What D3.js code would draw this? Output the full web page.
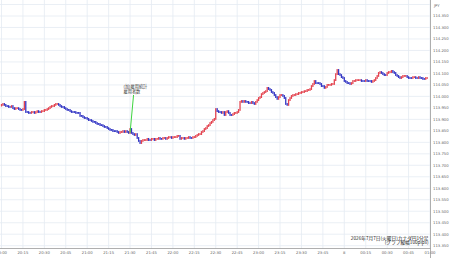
<!DOCTYPE html>
<html>
<head>
<meta charset="utf-8">
<script src="https://cdn.jsdelivr.net/npm/d3@7"></script>
<style>
  html, body { margin: 0; padding: 0; background: #fff; }
  svg { display: block; }
</style>
</head>
<body>
<div id="vis-container"></div>
<script>
// ------------------------------ DATA ------------------------------ //
// 1-minute closes from 20:00 (open of each candle = previous close)
const firstOpen = 113.960;
const closes = [
  113.963, 113.967, 113.963, 113.958, 113.958, 113.954, 113.954, 113.958, 113.949, 113.945,
  113.949, 113.949, 113.945, 113.941, 113.941, 113.945, 113.976, 113.932, 113.932, 113.928,
  113.928, 113.932, 113.932, 113.928, 113.932, 113.936, 113.932, 113.932, 113.936, 113.936,
  113.941, 113.941, 113.945, 113.949, 113.954, 113.958, 113.958, 113.963, 113.967, 113.967,
  113.963, 113.958, 113.954, 113.954, 113.949, 113.945, 113.941, 113.941, 113.936, 113.932,
  113.932, 113.932, 113.928, 113.928, 113.928, 113.915, 113.915, 113.910, 113.906, 113.906,
  113.902, 113.897, 113.897, 113.893, 113.889, 113.889, 113.884, 113.880, 113.880, 113.875,
  113.875, 113.871, 113.867, 113.867, 113.862, 113.858, 113.854, 113.854, 113.849, 113.849,
  113.849, 113.845, 113.841, 113.845, 113.845, 113.849, 113.845, 113.849, 113.845, 113.841,
  113.858, 113.841, 113.836, 113.832, 113.836, 113.819, 113.806, 113.797, 113.806, 113.810,
  113.810, 113.810, 113.815, 113.810, 113.810, 113.815, 113.815, 113.810, 113.815, 113.815,
  113.819, 113.815, 113.815, 113.819, 113.819, 113.815, 113.819, 113.823, 113.823, 113.819,
  113.823, 113.823, 113.823, 113.828, 113.828, 113.815, 113.819, 113.819, 113.815, 113.819,
  113.819, 113.823, 113.819, 113.819, 113.823, 113.823, 113.828, 113.832, 113.836, 113.836,
  113.845, 113.849, 113.858, 113.862, 113.871, 113.875, 113.884, 113.889, 113.897, 113.902,
  113.945, 113.936, 113.932, 113.932, 113.928, 113.932, 113.919, 113.932, 113.936, 113.928,
  113.919, 113.919, 113.923, 113.928, 113.928, 113.932, 113.941, 113.976, 113.980, 113.976,
  113.980, 113.976, 113.976, 113.971, 113.971, 113.976, 113.971, 113.967, 113.976, 113.984,
  113.993, 113.997, 114.010, 114.015, 114.019, 114.023, 114.037, 114.032, 114.028, 114.019,
  114.015, 114.006, 113.997, 113.989, 113.997, 114.006, 114.006, 114.002, 113.993, 113.967,
  113.963, 113.984, 113.993, 114.002, 114.006, 114.006, 114.010, 114.010, 114.015, 114.015,
  114.019, 114.019, 114.023, 114.023, 114.028, 114.028, 114.032, 114.045, 114.054, 114.067,
  114.058, 114.058, 114.058, 114.054, 114.045, 114.045, 114.037, 114.041, 114.050, 114.050,
  114.050, 114.054, 114.054, 114.071, 114.097, 114.115, 114.097, 114.093, 114.084, 114.080,
  114.067, 114.063, 114.058, 114.058, 114.054, 114.058, 114.067, 114.067, 114.071, 114.071,
  114.071, 114.071, 114.067, 114.067, 114.067, 114.071, 114.067, 114.067, 114.067, 114.063,
  114.067, 114.071, 114.080, 114.089, 114.102, 114.106, 114.102, 114.097, 114.093, 114.093,
  114.102, 114.106, 114.106, 114.111, 114.106, 114.102, 114.093, 114.089, 114.084, 114.080,
  114.084, 114.089, 114.089, 114.089, 114.084, 114.080, 114.080, 114.080, 114.084, 114.084,
  114.080, 114.080, 114.084, 114.080, 114.080, 114.076, 114.076, 114.080, 114.080
];

const priceTicks = [113.35, 113.40, 113.45, 113.50, 113.55, 113.60, 113.65, 113.70, 113.75, 113.80,
  113.85, 113.90, 113.95, 114.00, 114.05, 114.10, 114.15, 114.20, 114.25, 114.30, 114.35];
const startTime = Date.UTC(2026, 6, 7, 20, 0);
const endTime = Date.UTC(2026, 6, 8, 1, 0);
const eventTime = Date.UTC(2026, 6, 7, 21, 30);
const eventLabel = ["(加)雇用統計", "雇用者数"];
const captionLines = ["2026年7月7日(火曜日)カナダ円1分足", "(グラフ縦幅100pips)"];
const unitLabel = "JPY";

// ------------------------------ SET UP ------------------------------ //
const width = 450;
const height = 258;
const axisX = 430.5;
const axisY = 248.5;

const svg = d3.select("#vis-container")
  .append("svg")
  .attr("width", width)
  .attr("height", height)
  .attr("viewBox", [0, 0, width, height]);

const candles = closes.map((c, i) => ({
  time: new Date(startTime + i * 60000),
  open: i === 0 ? firstOpen : closes[i - 1],
  close: c
}));

const x = d3.scaleUtc()
  .domain([new Date(startTime), new Date(endTime)])
  .range([1.5, 430]);

const y = d3.scaleLinear()
  .domain([113.35, 114.35])
  .range([245.7, 16]);

const fontTick = "'DejaVu Sans', sans-serif";
const fontJp = "'Noto Sans CJK JP', sans-serif";

// Grid
const xTicks = x.ticks(d3.utcMinute.every(15));
svg.append("g")
  .selectAll("line")
  .data(xTicks)
  .join("line")
  .attr("x1", d => x(d)).attr("x2", d => x(d))
  .attr("y1", 0).attr("y2", axisY)
  .attr("stroke", "#e4ebf3")
  .attr("stroke-width", 0.8);

svg.append("g")
  .selectAll("line")
  .data(priceTicks.concat([114.40]))
  .join("line")
  .attr("x1", 0).attr("x2", axisX)
  .attr("y1", d => y(d)).attr("y2", d => y(d))
  .attr("stroke", "#e4ebf3")
  .attr("stroke-width", 0.8);

// Axes lines
svg.append("line")
  .attr("x1", axisX).attr("x2", axisX)
  .attr("y1", 0).attr("y2", height)
  .attr("stroke", "#9a9a9a").attr("stroke-width", 0.8);

svg.append("line")
  .attr("x1", 0).attr("x2", axisX)
  .attr("y1", axisY).attr("y2", axisY)
  .attr("stroke", "#9a9a9a").attr("stroke-width", 0.8);

// Y tick labels
svg.append("g")
  .selectAll("text")
  .data(priceTicks)
  .join("text")
  .attr("x", 433)
  .attr("y", d => y(d) + 1.4)
  .attr("font-family", fontTick)
  .attr("font-size", 3.8)
  .attr("fill", "#666")
  .text(d => d3.format(".3f")(d));

svg.append("text")
  .attr("x", 434)
  .attr("y", 6.5)
  .attr("font-family", fontTick)
  .attr("font-size", 3.8)
  .attr("fill", "#666")
  .text(unitLabel);

// X tick labels
const timeFmt = d => (d.getUTCHours() === 0 && d.getUTCMinutes() === 0)
  ? String(d.getUTCDate())
  : d3.utcFormat("%H:%M")(d);

svg.append("g")
  .selectAll("text")
  .data(xTicks)
  .join("text")
  .attr("x", d => x(d))
  .attr("y", 254)
  .attr("text-anchor", "middle")
  .attr("font-family", fontTick)
  .attr("font-size", 3.8)
  .attr("fill", "#666")
  .text(timeFmt);

// Candles
const step = x(new Date(startTime + 60000)) - x(new Date(startTime));
let lastUp = true;
candles.forEach(d => {
  if (d.close > d.open) lastUp = true;
  else if (d.close < d.open) lastUp = false;
  d.up = lastUp;
});

svg.append("g")
  .selectAll("rect")
  .data(candles)
  .join("rect")
  .attr("x", d => x(d.time) - step * 0.45)
  .attr("width", step * 0.9)
  .attr("y", d => Math.min(y(d.open), y(d.close)) - 0.9)
  .attr("height", d => Math.abs(y(d.open) - y(d.close)) + 1.8)
  .attr("fill", d => d.up ? "#e3434f" : "#3336c4");

// Event marker
const evX = x(new Date(eventTime));
const evCandle = candles.find(d => +d.time === eventTime);
svg.append("line")
  .attr("x1", evX).attr("y1", y(evCandle.open))
  .attr("x2", evX + 3.5).attr("y2", 95)
  .attr("stroke", "#3fd43f")
  .attr("stroke-width", 1);

svg.append("g")
  .selectAll("text")
  .data(eventLabel)
  .join("text")
  .attr("x", 123.5)
  .attr("y", (d, i) => 88 + i * 4.6)
  .attr("font-family", fontJp)
  .attr("font-size", 4.2)
  .attr("fill", "#333")
  .text(d => d);

// Caption
svg.append("g")
  .selectAll("text")
  .data(captionLines)
  .join("text")
  .attr("x", 428.5)
  .attr("y", (d, i) => 239.5 + i * 4.6)
  .attr("text-anchor", "end")
  .attr("font-family", fontJp)
  .attr("font-size", 4.7)
  .attr("fill", "#222")
  .text(d => d);
</script>
</body>
</html>
